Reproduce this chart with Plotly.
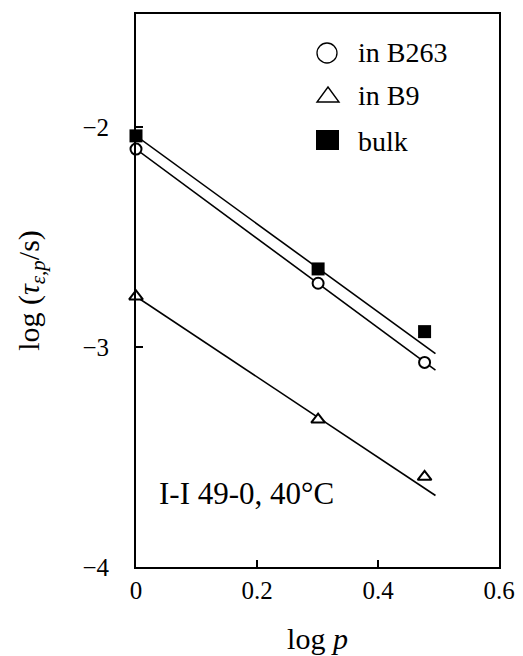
import plotly.graph_objects as go

# ---- data ----
log_p = [0.0, 0.301, 0.477]
tau_b263 = [-2.10, -2.71, -3.07]
tau_b9 = [-2.77, -3.33, -3.59]
tau_bulk = [-2.04, -2.645, -2.93]

fit_x = [0.0, 0.495]
fit_b263 = [-2.10, -3.105]
fit_b9 = [-2.77, -3.675]
fit_bulk = [-2.04, -3.03]

legend_labels = ["in B263", "in B9", "bulk"]
x_ticks = [0, 0.2, 0.4, 0.6]
y_ticks = [-4, -3, -2]

FONT = "Liberation Serif"
W, H = 523, 656
ML, MR, MT, MB = 136, 24, 14, 89
PW, PH = W - ML - MR, H - MT - MB


def px(x):
    return (x - ML) / PW


def py(y):
    return (H - MB - y) / PH


fig = go.Figure()

line_style = dict(color="black", width=1.6)
for ys in (fit_bulk, fit_b263, fit_b9):
    fig.add_trace(go.Scatter(x=fit_x, y=ys, mode="lines", line=line_style,
                             showlegend=False, hoverinfo="skip", cliponaxis=False))

fig.add_trace(go.Scatter(x=log_p, y=tau_b263, mode="markers", name=legend_labels[0],
                         marker=dict(symbol="circle", size=11, color="white",
                                     line=dict(color="black", width=2)),
                         showlegend=False, cliponaxis=False))
fig.add_trace(go.Scatter(x=log_p, y=tau_b9, mode="markers", name=legend_labels[1],
                         marker=dict(symbol="triangle-up", size=12, color="white",
                                     line=dict(color="black", width=2)),
                         showlegend=False, cliponaxis=False))
fig.add_trace(go.Scatter(x=log_p, y=tau_bulk, mode="markers", name=legend_labels[2],
                         marker=dict(symbol="square", size=13, color="black",
                                     line=dict(color="black", width=0)),
                         showlegend=False, cliponaxis=False))

# ---- hand-drawn legend (paper coordinates) ----
shapes = []
shapes.append(dict(type="circle", xref="paper", yref="paper",
                   x0=px(317), x1=px(337), y0=py(63), y1=py(43),
                   line=dict(color="black", width=1.3), fillcolor="white"))
tri = f"M {px(317)} {py(102)} L {px(339)} {py(102)} L {px(328)} {py(87)} Z"
shapes.append(dict(type="path", xref="paper", yref="paper", path=tri,
                   line=dict(color="black", width=1.4), fillcolor="white"))
shapes.append(dict(type="rect", xref="paper", yref="paper",
                   x0=px(316), x1=px(339), y0=py(150), y1=py(130),
                   line=dict(color="black", width=0), fillcolor="black"))

annotations = []
for lab, yc in zip(legend_labels, [53, 96, 141]):
    annotations.append(dict(xref="paper", yref="paper", x=px(356), y=py(yc),
                            xanchor="left", yanchor="middle", showarrow=False,
                            text=lab, font=dict(family=FONT, size=28, color="black")))

annotations.append(dict(xref="x", yref="y", x=0.035, y=-3.665,
                        xanchor="left", yanchor="middle", showarrow=False,
                        text="I-I 49-0, 40°C",
                        font=dict(family=FONT, size=31, color="black")))

fig.update_layout(
    width=W, height=H,
    margin=dict(l=ML, r=MR, t=MT, b=MB, autoexpand=False),
    paper_bgcolor="white", plot_bgcolor="white",
    font=dict(family=FONT, color="black"),
    shapes=shapes, annotations=annotations,
    showlegend=False,
)

fig.update_xaxes(
    range=[0, 0.6], tickvals=x_ticks, ticktext=["0", "0.2", "0.4", "0.6"],
    showgrid=False, zeroline=False, automargin=False,
    showline=True, linecolor="black", linewidth=2, mirror=True,
    ticks="inside", ticklen=7, tickwidth=2, tickcolor="black",
    tickfont=dict(family=FONT, size=25, color="black"),
    title=dict(text="log <i>p</i>", font=dict(family=FONT, size=30, color="black"), standoff=25),
)
fig.update_yaxes(
    range=[-4, -1.486], tickvals=y_ticks, ticktext=["\u22124", "\u22123", "\u22122"],
    showgrid=False, zeroline=False, automargin=False,
    showline=True, linecolor="black", linewidth=2, mirror=True,
    ticks="inside", ticklen=7, tickwidth=2, tickcolor="black",
    ticklabelstandoff=20,
    tickfont=dict(family=FONT, size=25, color="black"),
    title=dict(text="log (<i>τ</i><sub><i>ε,p</i></sub>/s)",
               font=dict(family=FONT, size=30, color="black"), standoff=34),
)

fig.write_html("out.html")
